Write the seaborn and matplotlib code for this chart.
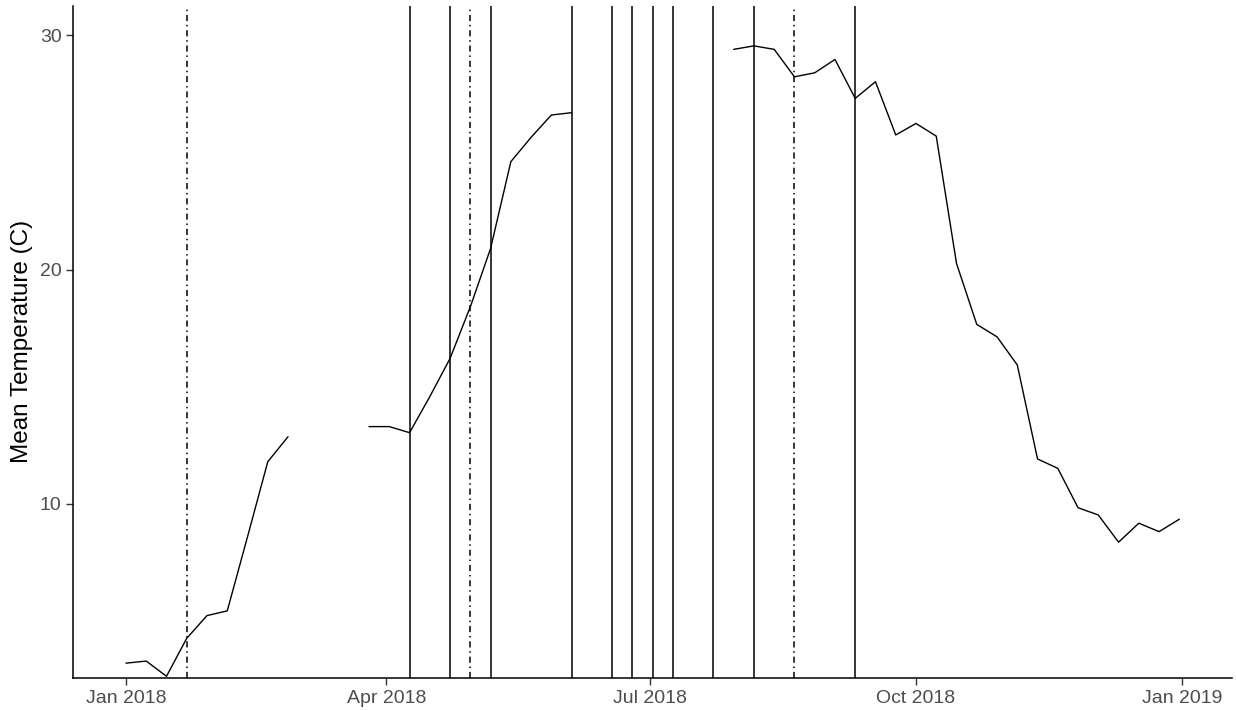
import numpy as np
import pandas as pd
import seaborn as sns
import matplotlib
matplotlib.use("Agg")
from matplotlib import pyplot as plt
import matplotlib.dates as mdates

nan = np.nan

# weekly mean temperature from 2018-01-01, gaps are missing weeks
mean_temp = [3.21, 3.30, 2.65, 4.27, 5.24, 5.44, 8.60, 11.80, 12.87,
             nan, nan, nan,
             13.30, 13.30, 13.04, 14.58, 16.21, 18.41, 20.90, 24.60, 25.64, 26.59, 26.69,
             nan, nan, nan, nan, nan, nan, nan,
             29.39, 29.54, 29.39, 28.22, 28.39, 28.96, 27.30, 28.01, 25.74, 26.23,
             25.69, 20.26, 17.66, 17.13, 15.93, 11.92, 11.52, 9.84, 9.53, 8.37,
             9.18, 8.82, 9.35]

solid_events = ["2018-04-09", "2018-04-23", "2018-05-07", "2018-06-04", "2018-06-18",
                "2018-06-25", "2018-07-02", "2018-07-09", "2018-07-23", "2018-08-06",
                "2018-09-10"]
dotdash_events = ["2018-01-22", "2018-04-30", "2018-08-20"]

x_ticks = ["2018-01-01", "2018-04-01", "2018-07-01", "2018-10-01", "2019-01-01"]
x_tick_labels = ["Jan 2018", "Apr 2018", "Jul 2018", "Oct 2018", "Jan 2019"]
y_ticks = [10, 20, 30]

df = pd.DataFrame({
    "week": pd.date_range("2018-01-01", periods=len(mean_temp), freq="7D"),
    "temp": mean_temp,
})
# split into runs so the gaps stay open
df["run"] = df["temp"].isna().cumsum()
df = df.dropna()

sns.set_style("ticks")
plt.rcParams["font.family"] = ["Liberation Sans", "DejaVu Sans"]

fig = plt.figure(figsize=(12.36, 7.10), dpi=100)
ax = fig.add_axes([73.3 / 1236, 32.3 / 710, (1232 - 73.3) / 1236, 671.7 / 710])

sns.lineplot(data=df, x="week", y="temp", units="run", estimator=None,
             color="black", linewidth=1.0, ax=ax, legend=False)

for d in solid_events:
    ax.axvline(pd.Timestamp(d), color="black", linewidth=1.1, linestyle="-")
for d in dotdash_events:
    ax.axvline(pd.Timestamp(d), color="black", linewidth=1.1,
               linestyle=(0, (4, 2.5, 1, 2.5)))

start, end = df["week"].min(), df["week"].max()
pad = (end - start) * 0.05
ax.set_xlim(start - pad, end + pad)
ax.set_ylim(2.59, 31.24)

ax.set_xticks([pd.Timestamp(t) for t in x_ticks])
ax.set_xticklabels(x_tick_labels)
ax.set_yticks(y_ticks)

ax.tick_params(axis="both", length=5, width=1.0, color="#333333",
               labelsize=14, labelcolor="#4D4D4D", pad=3.5)
ax.set_xlabel("")
ax.set_ylabel("Mean Temperature (C)", fontsize=17.5, color="black", labelpad=5)

sns.despine(ax=ax)
for side in ["left", "bottom"]:
    ax.spines[side].set_color("black")
    ax.spines[side].set_linewidth(1.1)

fig.savefig("out.png", dpi=100)
